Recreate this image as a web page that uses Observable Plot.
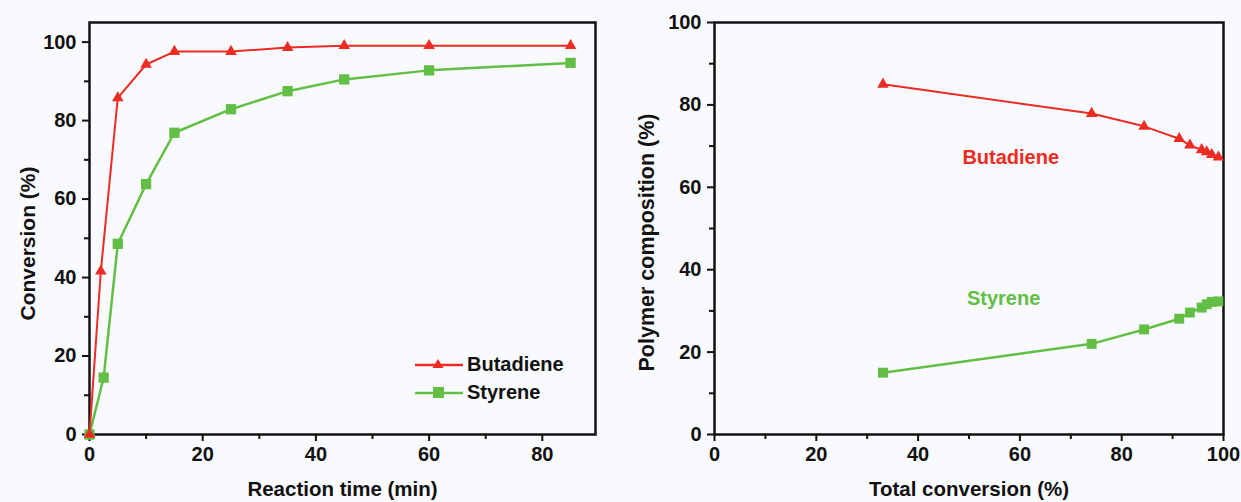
<!DOCTYPE html>
<html>
<head>
<meta charset="utf-8">
<script src="https://cdn.jsdelivr.net/npm/d3@7"></script>
<script src="https://cdn.jsdelivr.net/npm/@observablehq/plot@0.6"></script>
<style>
  html, body { margin: 0; padding: 0; background: #f9fafd; }
  #wrap { position: relative; width: 1241px; height: 502px; display: flex; }
  .legend { position: absolute; font-family: "Liberation Sans", Arial, sans-serif; font-weight: bold; font-size: 20px; color: #111; }
  .legend .row { display: flex; align-items: center; height: 28px; }
  .legend svg { margin-right: 3px; }
</style>
</head>
<body>
<div id="wrap"></div>
<script>
// ---- Data: left panel (conversion vs reaction time)
const timeMin = [0, 2, 5, 10, 15, 25, 35, 45, 60, 85];
const butadieneConv = [0, 41.6, 85.8, 94.3, 97.6, 97.6, 98.6, 99.1, 99.1, 99.1];
const styreneTime = [0, 2.5, 5, 10, 15, 25, 35, 45, 60, 85];
const styreneConv = [0, 14.5, 48.6, 63.8, 76.9, 82.9, 87.5, 90.5, 92.8, 94.7];

// ---- Data: right panel (polymer composition vs total conversion)
const totalConv = [33.1, 74.1, 84.4, 91.3, 93.4, 95.7, 96.7, 97.7, 99.0];
const butadieneComp = [85.0, 77.9, 74.8, 71.8, 70.2, 69.1, 68.6, 67.9, 67.3];
const styreneComp = [15.0, 22.0, 25.5, 28.1, 29.6, 30.8, 31.6, 32.2, 32.3];

const seriesNames = ["Butadiene", "Styrene"];
const xTicksLeft = [0, 20, 40, 60, 80];
const xMinorLeft = [10, 30, 50, 70];
const yTicks = [0, 20, 40, 60, 80, 100];
const yMinor = [10, 30, 50, 70, 90];
const xTicksRight = [0, 20, 40, 60, 80, 100];
const xMinorRight = [10, 30, 50, 70, 90];

const RED = "#ec2b22";
const GREEN = "#63be45";
const FONT = "Liberation Sans, Arial, sans-serif";

const butLeft = timeMin.map((t, i) => ({x: t, y: butadieneConv[i]}));
const styLeft = styreneTime.map((t, i) => ({x: t, y: styreneConv[i]}));
const butRight = totalConv.map((c, i) => ({x: c, y: butadieneComp[i]}));
const styRight = totalConv.map((c, i) => ({x: c, y: styreneComp[i]}));

const baseStyle = {fontFamily: FONT, fontSize: "20px", fontWeight: "bold", background: "transparent", color: "#111", overflow: "visible"};

function axes(xMajor, xMinor) {
  return [
    Plot.axisX({ticks: xMajor, tickSize: 7, tickPadding: 5, strokeWidth: 2, label: null, fontSize: 20, fontWeight: "bold"}),
    Plot.axisX({ticks: xMinor, tickSize: 5, tickFormat: () => "", strokeWidth: 2, label: null}),
    Plot.axisY({ticks: yTicks, tickSize: 7, tickPadding: 6, strokeWidth: 2, label: null, fontSize: 20, fontWeight: "bold"}),
    Plot.axisY({ticks: yMinor, tickSize: 5, tickFormat: () => "", strokeWidth: 2, label: null}),
    Plot.frame({stroke: "#111", strokeWidth: 2.5})
  ];
}

const left = Plot.plot({
  width: 620, height: 502,
  marginLeft: 89, marginRight: 25, marginTop: 22, marginBottom: 68,
  style: baseStyle,
  x: {domain: [0, 89.4]},
  y: {domain: [0, 105]},
  marks: [
    ...axes(xTicksLeft, xMinorLeft),
    Plot.line(styLeft, {x: "x", y: "y", stroke: GREEN, strokeWidth: 2.5}),
    Plot.dot(styLeft, {x: "x", y: "y", symbol: "square", r: 5.8, fill: GREEN}),
    Plot.line(butLeft, {x: "x", y: "y", stroke: RED, strokeWidth: 2}),
    Plot.dot(butLeft, {x: "x", y: "y", symbol: "triangle", r: 4.3, fill: RED}),
    Plot.text(["Reaction time (min)"], {frameAnchor: "bottom", dy: 55, textAnchor: "middle", lineAnchor: "middle", fontSize: 20.5, fontWeight: "bold", fill: "#111"}),
    Plot.text(["Conversion (%)"], {frameAnchor: "left", dx: -61, dy: 15, rotate: -90, textAnchor: "middle", lineAnchor: "middle", fontSize: 21, fontWeight: "bold", fill: "#111"})
  ]
});

const right = Plot.plot({
  width: 621, height: 502,
  marginLeft: 94, marginRight: 18, marginTop: 22, marginBottom: 68,
  style: baseStyle,
  x: {domain: [0, 100]},
  y: {domain: [0, 100]},
  marks: [
    ...axes(xTicksRight, xMinorRight),
    Plot.line(styRight, {x: "x", y: "y", stroke: GREEN, strokeWidth: 2.5}),
    Plot.dot(styRight, {x: "x", y: "y", symbol: "square", r: 5.6, fill: GREEN}),
    Plot.line(butRight, {x: "x", y: "y", stroke: RED, strokeWidth: 2}),
    Plot.dot(butRight, {x: "x", y: "y", symbol: "triangle", r: 4.3, fill: RED}),
    Plot.text([seriesNames[0]], {x: 58.2, y: 67.3, fill: RED, fontSize: 20, fontWeight: "bold", lineAnchor: "middle"}),
    Plot.text([seriesNames[1]], {x: 56.8, y: 33.1, fill: GREEN, fontSize: 20, fontWeight: "bold", lineAnchor: "middle"}),
    Plot.text(["Total conversion (%)"], {frameAnchor: "bottom", dy: 55, textAnchor: "middle", lineAnchor: "middle", fontSize: 20.5, fontWeight: "bold", fill: "#111"}),
    Plot.text(["Polymer composition (%)"], {frameAnchor: "left", dx: -67, dy: 14, rotate: -90, textAnchor: "middle", lineAnchor: "middle", fontSize: 21.5, fontWeight: "bold", fill: "#111"})
  ]
});

const wrap = document.getElementById("wrap");
wrap.appendChild(left);
wrap.appendChild(right);

// Legend for the left panel
const legend = document.createElement("div");
legend.className = "legend";
legend.style.left = "414px";
legend.style.top = "350px";
function sym(color, shape) {
  const s = shape === "triangle"
    ? `<path d="M24,3 L29.5,12 L18.5,12 Z" fill="${color}"/>`
    : `<rect x="19" y="3" width="11" height="11" fill="${color}"/>`;
  return `<svg width="50" height="16" viewBox="0 0 50 16"><line x1="1" y1="9" x2="49" y2="9" stroke="${color}" stroke-width="2.5"/>${s}</svg>`;
}
legend.innerHTML =
  `<div class="row">${sym(RED, "triangle")}<span>${seriesNames[0]}</span></div>` +
  `<div class="row">${sym(GREEN, "square")}<span>${seriesNames[1]}</span></div>`;
wrap.appendChild(legend);
</script>
</body>
</html>
